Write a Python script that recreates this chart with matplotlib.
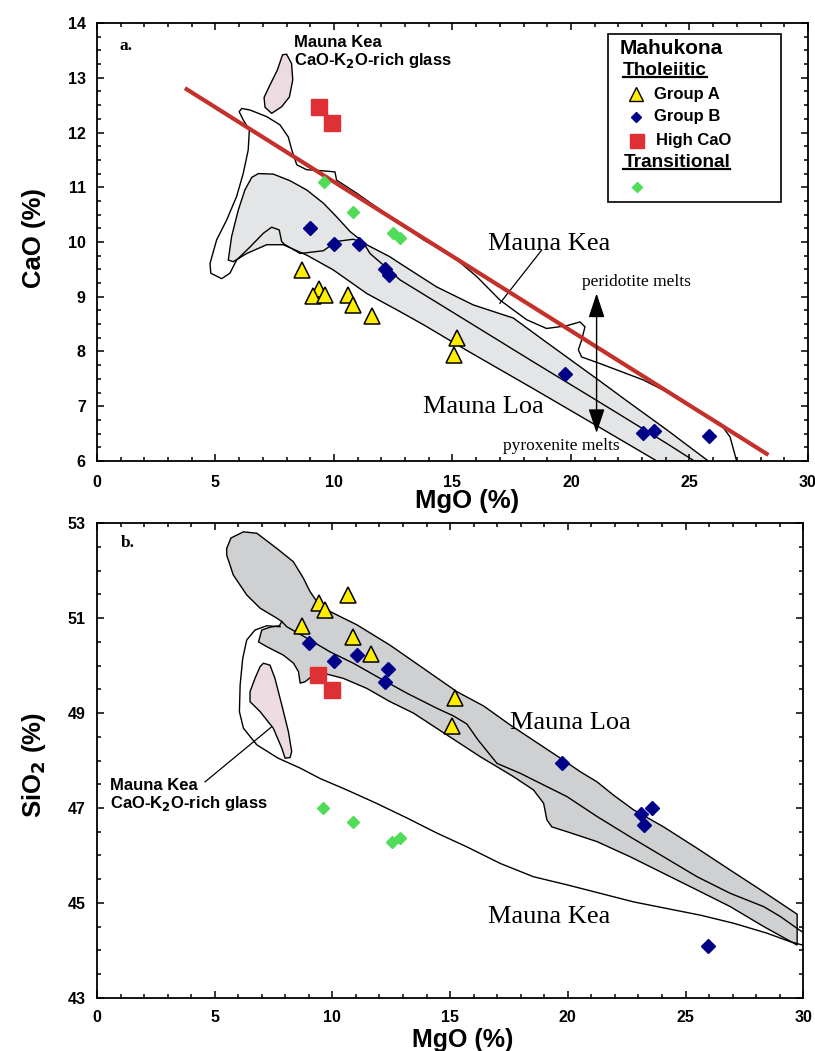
import matplotlib
matplotlib.use('Agg')
import matplotlib.pyplot as plt
from matplotlib.patches import Polygon, Rectangle
import numpy as np

SANS = 'Liberation Sans'
SERIF = 'Liberation Serif'
plt.rcParams['font.family'] = SANS

# colours
YELLOW = '#ffee00'
NAVY = '#000088'
RED = '#de3035'
GREEN = '#4fdc58'
REDLINE = '#c4312a'

# ---------------- panel a: CaO vs MgO ----------------
a_grpA_mgo = [8.65, 9.37, 9.10, 9.63, 10.58, 10.79, 11.59, 15.18, 15.06]
a_grpA_cao = [9.48, 9.14, 9.01, 9.03, 9.03, 8.84, 8.64, 8.25, 7.93]
a_grpB_mgo = [8.97, 10.01, 11.04, 12.15, 12.33, 19.75, 23.05, 23.52, 25.84]
a_grpB_cao = [10.25, 9.96, 9.96, 9.50, 9.40, 7.59, 6.51, 6.54, 6.46]
a_hica_mgo = [9.38, 9.90]
a_hica_cao = [12.47, 12.18]
a_trans_mgo = [9.56, 10.79, 12.48, 12.78]
a_trans_cao = [11.10, 10.54, 10.16, 10.07]
a_trend_mgo = [3.71, 28.33]
a_trend_cao = [12.81, 6.11]

# Mauna Loa field (closed outline)
a_loa_mgo = [5.54, 5.68, 5.96, 6.24, 6.53, 6.81, 7.44, 8.14, 8.85, 9.55, 10.11, 10.68,
             11.38, 12.36, 12.78, 14.33, 15.88, 17.57, 18.83, 21.22, 22.35, 24.04, 25.79,
             23.62, 21.22, 18.41, 15.60, 13.77, 12.78, 11.38, 9.97, 8.85, 7.86, 7.16, 6.32, 5.75]
a_loa_cao = [9.67, 10.10, 10.58, 10.95, 11.18, 11.25, 11.24, 11.12, 10.95, 10.71, 10.46, 10.19,
             9.95, 9.73, 9.61, 9.18, 8.85, 8.61, 8.21, 7.46, 7.10, 6.57, 6.00,
             6.00, 6.61, 7.32, 8.02, 8.49, 8.73, 9.06, 9.49, 9.76, 9.95, 9.95, 9.79, 9.64]

# Mauna Kea field outline (open line)
a_kea_mgo = [26.99, 26.71, 26.29, 25.58, 24.46, 23.05, 21.22, 20.45, 20.31, 20.45, 20.59, 20.38,
             19.82, 18.97, 18.13, 17.00, 16.02, 15.03, 13.77, 10.96, 10.11, 10.04, 9.55, 8.85,
             8.43, 8.22, 8.07, 7.72, 7.16, 6.46, 6.11, 6.00, 6.17, 6.43, 6.38, 6.17, 5.89, 5.47,
             5.05, 4.77, 4.80, 5.26, 5.61, 5.89, 6.46, 7.02, 7.37, 7.69, 7.79, 7.90,
             8.57, 9.55, 10.11, 10.81, 11.24, 11.52, 12.08, 12.78, 15.60, 18.41, 21.22, 24.04, 25.20]
a_kea_cao = [6.00, 6.44, 6.69, 6.87, 7.17, 7.48, 7.78, 7.90, 8.03, 8.21, 8.45, 8.54,
             8.47, 8.42, 8.58, 8.94, 9.37, 9.73, 10.04, 10.89, 11.13, 11.28, 11.30, 11.32,
             11.41, 11.68, 11.92, 12.14, 12.29, 12.41, 12.44, 12.38, 12.23, 12.05, 11.68, 11.25, 10.83, 10.40,
             10.04, 9.61, 9.43, 9.33, 9.43, 9.67, 9.91, 10.16, 10.27, 10.22, 10.01, 9.96,
             9.79, 9.84, 10.01, 10.05, 9.99, 9.79, 9.58, 9.31, 8.56, 7.81, 7.07, 6.32, 6.00]

# CaO-K2O-rich glass field
a_glass_mgo = [7.83, 8.00, 8.21, 8.26, 8.12, 7.79, 7.37, 7.09, 7.05, 7.30, 7.61]
a_glass_cao = [13.42, 13.43, 13.26, 12.96, 12.65, 12.47, 12.35, 12.46, 12.64, 12.87, 13.14]

# ---------------- panel b: SiO2 vs MgO ----------------
b_grpA_mgo = [10.65, 9.43, 9.68, 8.70, 10.87, 11.64, 15.21, 15.10]
b_grpA_sio2 = [51.49, 51.33, 51.17, 50.84, 50.60, 50.24, 49.32, 48.73]
b_grpB_mgo = [9.01, 10.06, 11.06, 12.34, 12.23, 19.76, 23.57, 23.12, 23.22, 25.94]
b_grpB_sio2 = [50.47, 50.10, 50.22, 49.92, 49.65, 47.95, 47.00, 46.87, 46.63, 44.08]
b_hica_mgo = [9.39, 9.97]
b_hica_sio2 = [49.80, 49.49]
b_trans_mgo = [9.58, 10.87, 12.55, 12.85]
b_trans_sio2 = [46.99, 46.71, 46.29, 46.36]

b_loa_mgo = [5.51, 5.69, 6.22, 6.79, 7.64, 8.34, 8.77, 9.05, 9.34, 9.90, 11.04, 12.45, 13.87,
             15.29, 16.42, 17.55, 19.68, 20.54, 21.24, 21.94, 22.79, 24.07, 25.49, 26.90, 28.32,
             29.74, 29.74, 28.32, 26.90, 25.49, 24.07, 22.65, 21.24, 19.96, 19.32, 19.11, 18.97,
             18.54, 17.69, 16.28, 14.86, 13.44, 12.45, 11.46, 10.47, 9.62, 9.19, 8.84, 8.63, 8.56,
             8.35, 7.92, 7.21, 6.86, 7.00, 7.35, 7.75, 7.85, 7.64, 6.93, 6.36, 5.79, 5.51]
b_loa_sio2 = [52.47, 52.69, 52.82, 52.79, 52.47, 52.19, 51.84, 51.56, 51.35, 51.14, 50.86, 50.43, 49.94,
              49.45, 49.15, 48.75, 48.05, 47.76, 47.55, 47.27, 46.96, 46.60, 46.15, 45.69, 45.23,
              44.76, 44.11, 44.50, 44.92, 45.27, 45.62, 45.97, 46.29, 46.50, 46.60, 46.75, 47.10,
              47.38, 47.66, 48.08, 48.54, 49.00, 49.24, 49.52, 49.73, 49.84, 49.80, 49.66, 49.63, 49.87,
              50.05, 50.22, 50.40, 50.50, 50.75, 50.81, 50.84, 50.93, 51.00, 51.21, 51.49, 51.91, 52.33]

b_mid_mgo = [7.85, 8.06, 8.91, 9.90, 10.89, 12.03, 13.16, 14.44, 15.14, 15.71, 16.19, 16.99, 17.98,
             19.11, 19.96, 21.24, 22.65, 24.07, 25.49, 26.90, 28.32, 29.03, 29.74, 30.23]
b_mid_sio2 = [50.93, 50.82, 50.58, 50.29, 50.05, 49.73, 49.42, 49.10, 48.94, 48.77, 48.43, 47.94, 47.73,
              47.45, 47.24, 46.82, 46.39, 45.97, 45.55, 45.20, 44.92, 44.71, 44.46, 44.30]

b_kea_mgo = [7.78, 7.21, 6.71, 6.36, 6.19, 6.08, 6.05, 6.22, 6.79, 7.69, 8.63, 9.48, 10.61, 11.86,
             13.16, 14.44, 15.71, 17.13, 18.54, 19.96, 21.38, 22.79, 24.21, 25.63, 27.04, 28.46, 29.45, 30.19]
b_kea_sio2 = [50.82, 50.84, 50.75, 50.54, 50.15, 49.59, 49.03, 48.68, 48.33, 48.05, 47.84, 47.62, 47.38, 47.10,
              46.79, 46.47, 46.18, 45.83, 45.55, 45.38, 45.20, 45.02, 44.88, 44.74, 44.57, 44.36, 44.18, 44.08]

b_glass_mgo = [7.07, 7.35, 7.56, 7.85, 8.13, 8.27, 8.20, 7.99, 7.85, 7.49, 6.93, 6.50, 6.50, 6.71, 6.93]
b_glass_sio2 = [50.05, 50.01, 49.73, 49.17, 48.61, 48.19, 48.06, 48.05, 48.26, 48.68, 49.03, 49.24, 49.45, 49.73, 49.98]


def style_axes(ax, ymin, ymax, ymajor, yminor, ylabels, xpad, ypad):
    ax.set_xlim(0, 30)
    ax.set_ylim(ymin, ymax)
    ax.set_xticks(range(0, 31, 5))
    ax.set_xticks(range(0, 31), minor=True)
    ax.set_yticks(ymajor)
    ax.set_yticklabels(ylabels)
    ax.set_yticks(yminor, minor=True)
    ax.tick_params(which='both', direction='in', top=True, right=True, width=1.1)
    ax.tick_params(which='major', length=5)
    ax.tick_params(which='minor', length=3)
    ax.tick_params(axis='x', pad=xpad, labelsize=11.5)
    ax.tick_params(axis='y', pad=ypad, labelsize=11.5)
    for lab in ax.get_xticklabels() + ax.get_yticklabels():
        lab.set_fontweight('bold')
    for sp in ax.spines.values():
        sp.set_linewidth(1.3)


def draw_points(ax, A, B, H, T):
    ax.plot(T[0], T[1], 'D', ms=6.5, mfc=GREEN, mec=GREEN, ls='none', zorder=5)
    ax.plot(H[0], H[1], 's', ms=11, mfc=RED, mec=RED, ls='none', zorder=5)
    ax.plot(B[0], B[1], 'D', ms=7, mfc=NAVY, mec=NAVY, ls='none', zorder=5)
    ax.plot(A[0], A[1], '^', ms=11, mfc=YELLOW, mec='black', mew=1.1, ls='none', zorder=6)


fig = plt.figure(figsize=(8.15, 10.51), dpi=100)
ax1 = fig.add_axes([0.1190, 0.5614, 0.8724, 0.4167])
ax2 = fig.add_axes([0.1190, 0.0507, 0.8666, 0.4514])

# ---- panel a ----
style_axes(ax1, 6, 14, range(6, 15), np.arange(6, 14.01, 0.25),
           [str(v) for v in range(6, 15)], 10, 8)
ax1.add_patch(Polygon(list(zip(a_loa_mgo, a_loa_cao)), closed=True, fc='#e4e5e7',
                      ec='black', lw=1.0, zorder=1))
ax1.add_patch(Polygon(list(zip(a_glass_mgo, a_glass_cao)), closed=True, fc='#ecdce1',
                      ec='black', lw=1.0, zorder=1))
ax1.plot(a_kea_mgo, a_kea_cao, color='black', lw=1.0, zorder=2)
ax1.plot(a_trend_mgo, a_trend_cao, color=REDLINE, lw=3, zorder=3, solid_capstyle='butt')
draw_points(ax1, (a_grpA_mgo, a_grpA_cao), (a_grpB_mgo, a_grpB_cao),
            (a_hica_mgo, a_hica_cao), (a_trans_mgo, a_trans_cao))

ax1.text(0.97, 13.58, 'a.', family=SERIF, fontweight='bold', fontsize=12.5, va='center')
ax1.text(8.31, 13.65, 'Mauna Kea', fontweight='bold', fontsize=12, va='center')
ax1.text(8.31, 13.32, 'CaO-K$_\\mathbf{2}$O-rich glass', fontweight='bold', fontsize=12, va='center')
ax1.text(16.51, 9.85, 'Mauna Kea', family=SERIF, fontsize=19, va='baseline')
ax1.plot([18.76, 17.00], [9.85, 8.88], color='black', lw=0.9, zorder=2)
ax1.text(13.77, 6.87, 'Mauna Loa', family=SERIF, fontsize=19, va='baseline')
ax1.text(20.45, 9.20, 'peridotite melts', family=SERIF, fontsize=12.5, va='baseline')
ax1.text(17.12, 6.20, 'pyroxenite melts', family=SERIF, fontsize=12.5, va='baseline')
ax1.annotate('', xy=(21.08, 9.06), xytext=(21.08, 6.51),
             arrowprops=dict(arrowstyle='<|-|>,head_length=0.75,head_width=0.25',
                             mutation_scale=20, color='black', lw=1.0,
                             shrinkA=0, shrinkB=0), zorder=4)

# legend box
ax1.add_patch(Rectangle((0.719, 0.592), 0.2425, 0.383, transform=ax1.transAxes,
                        fc='white', ec='black', lw=1.2, zorder=7))
lg = dict(transform=ax1.transAxes, fontweight='bold', va='center', zorder=8)
ax1.text(0.7356, 0.9422, 'Mahukona', fontsize=15, **lg)
t_thol = ax1.text(0.7394, 0.8927, 'Tholeiitic', fontsize=13.7, **lg)
ax1.text(0.7834, 0.8379, 'Group A', fontsize=12, **lg)
ax1.text(0.7834, 0.7861, 'Group B', fontsize=12, **lg)
ax1.text(0.7862, 0.7313, 'High CaO', fontsize=12, **lg)
t_trans = ax1.text(0.7402, 0.6826, 'Transitional', fontsize=13.7, **lg)
ax1.plot([0.7577], [0.8379], '^', ms=9.5, mfc=YELLOW, mec='black', mew=1.0,
         transform=ax1.transAxes, zorder=8, clip_on=False)
ax1.plot([0.7577], [0.7861], 'D', ms=5, mfc=NAVY, mec=NAVY,
         transform=ax1.transAxes, zorder=8, clip_on=False)
ax1.plot([0.7591], [0.7313], 's', ms=9.5, mfc=RED, mec=RED,
         transform=ax1.transAxes, zorder=8, clip_on=False)
ax1.plot([0.7599], [0.6249], 'D', ms=5, mfc=GREEN, mec=GREEN,
         transform=ax1.transAxes, zorder=8, clip_on=False)

# ---- panel b ----
style_axes(ax2, 43, 53, range(43, 54, 2), np.arange(43, 53.01, 0.5),
           [str(v) for v in range(43, 54, 2)], 9, 8)
ax2.add_patch(Polygon(list(zip(b_loa_mgo, b_loa_sio2)), closed=True, fc='#cfd0d2',
                      ec='black', lw=1.0, zorder=1))
ax2.add_patch(Polygon(list(zip(b_glass_mgo, b_glass_sio2)), closed=True, fc='#ecdce1',
                      ec='black', lw=1.0, zorder=1))
ax2.plot(b_mid_mgo, b_mid_sio2, color='black', lw=1.0, zorder=2)
ax2.plot(b_kea_mgo, b_kea_sio2, color='black', lw=1.0, zorder=2)
draw_points(ax2, (b_grpA_mgo, b_grpA_sio2), (b_grpB_mgo, b_grpB_sio2),
            (b_hica_mgo, b_hica_sio2), (b_trans_mgo, b_trans_sio2))

ax2.text(1.01, 52.58, 'b.', family=SERIF, fontweight='bold', fontsize=12.5, va='center')
ax2.text(0.55, 47.48, 'Mauna Kea', fontweight='bold', fontsize=12, va='center')
ax2.text(0.55, 47.10, 'CaO-K$_\\mathbf{2}$O-rich glass', fontweight='bold', fontsize=12, va='center')
ax2.plot([4.59, 7.42], [47.55, 48.71], color='black', lw=0.9, zorder=2)
ax2.text(17.55, 48.66, 'Mauna Loa', family=SERIF, fontsize=19, va='baseline')
ax2.text(16.63, 44.57, 'Mauna Kea', family=SERIF, fontsize=19, va='baseline')

# axis labels
fig.text(0.5736, 1 - 508 / 1051, 'MgO (%)', fontsize=18.5, fontweight='bold',
         ha='center', va='baseline')
fig.text(0.5675, 1 - 1047 / 1051, 'MgO (%)', fontsize=18, fontweight='bold',
         ha='center', va='baseline')
fig.text(34 / 815, 1 - 238 / 1051, 'CaO (%)', fontsize=18.5, fontweight='bold',
         rotation=90, ha='center', va='center')
fig.text(34 / 815, 1 - 765 / 1051, 'SiO$_\\mathbf{2}$ (%)', fontsize=18.5, fontweight='bold',
         rotation=90, ha='center', va='center')

# underline the legend headings
fig.canvas.draw()
inv = ax1.transAxes.inverted()
for t in (t_thol, t_trans):
    bb = t.get_window_extent()
    (x0, y0), (x1, _) = inv.transform([(bb.x0, bb.y0), (bb.x1, bb.y1)])
    ax1.plot([x0, x1], [y0 + 0.004, y0 + 0.004], color='black', lw=1.6,
             transform=ax1.transAxes, zorder=8, clip_on=False)

fig.savefig('out.png', dpi=100)
